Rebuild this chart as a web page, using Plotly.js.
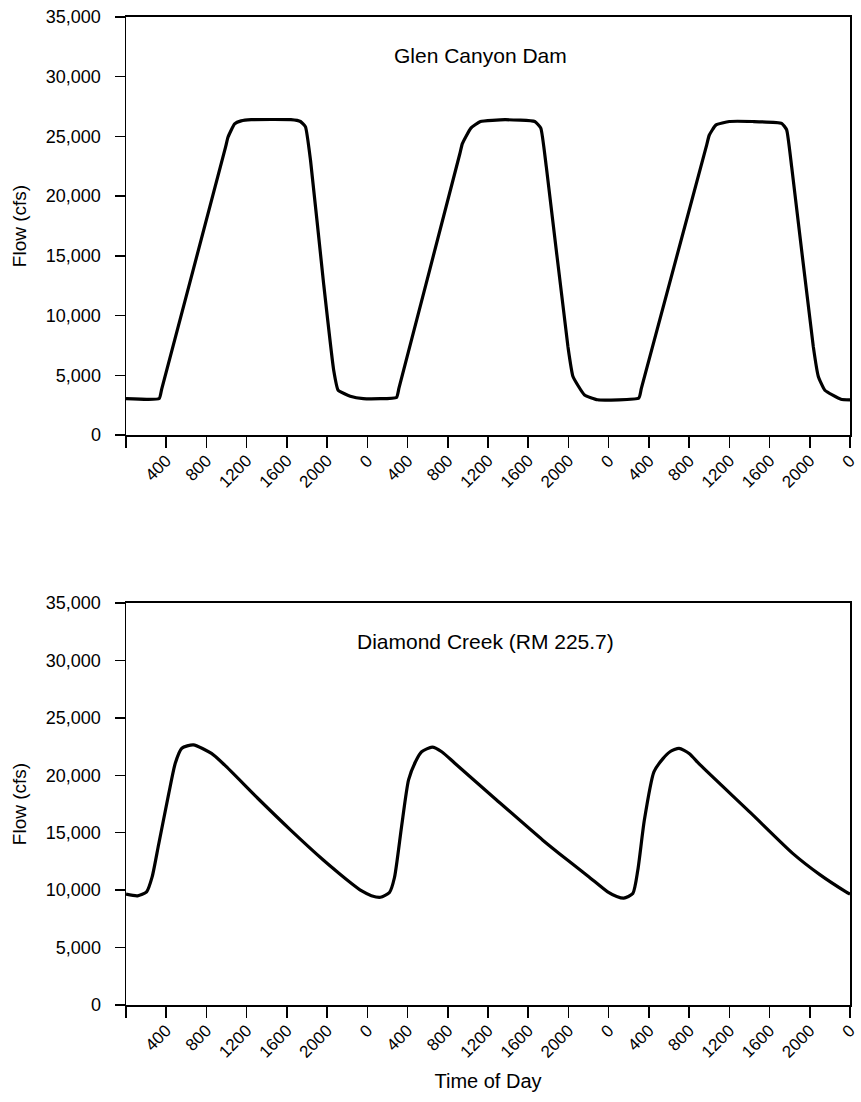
<!DOCTYPE html>
<html>
<head>
<meta charset="utf-8">
<script src="https://cdn.plot.ly/plotly-3.0.1.min.js"></script>
<style>
  html, body { margin: 0; padding: 0; background: #fff; }
  #chart { width: 861px; height: 1102px; }
</style>
</head>
<body>
<div id="chart"></div>
<script>
// Hourly flow at Glen Canyon Dam over three days (hours since midnight of day 1)
const glenHours = [0, 3.3, 3.55, 9.9, 10.15, 10.8, 11.45, 12.45, 16.4, 17.35, 17.85, 18.35, 19.65, 20.65, 21.1, 22.3, 23.6,
  26.9, 27.15, 33.2, 33.45, 34.3, 35.25, 37.7, 40.65, 41.25, 41.8, 43.95, 44.45, 45.6, 46.9,
  51.0, 51.25, 57.75, 58.0, 58.65, 60.0, 62.3, 65.2, 65.7, 66.2, 68.35, 68.85, 69.5, 71.1, 72];
const glenFlow = [3050, 3050, 3850, 24100, 24950, 26050, 26300, 26400, 26400, 26250, 25800, 23000, 12700, 5450, 3750, 3250, 3050,
  3150, 3950, 23550, 24400, 25700, 26250, 26400, 26250, 25700, 22450, 7400, 4900, 3350, 2950,
  3100, 3900, 24300, 25100, 25950, 26250, 26250, 26100, 25550, 22450, 7400, 4900, 3750, 3000, 2950];

// Attenuated wave downstream at Diamond Creek (RM 225.7)
const diamondHours = [0, 1.15, 2.05, 2.6, 3.25, 4.25, 4.9, 5.55, 6.7, 8.5, 9.8, 13.1, 16.35, 19.65, 21.2, 22.4, 23.4,
  24.4, 25.3, 26.2, 26.7, 27.4, 28.1, 28.8, 29.4, 30.45, 31.4, 32.7, 36.85, 41.45, 44.0, 46.05, 47.9, 48.8,
  49.5, 50.4, 50.9, 51.55, 52.5, 53.4, 54.1, 55.0, 56.0, 57.1, 62.15, 66.3, 69.0, 71.6, 72];
const diamondFlow = [9650, 9500, 9850, 11150, 14000, 18400, 21050, 22350, 22650, 21900, 20900, 18000, 15250, 12600, 11450, 10600, 9950,
  9520, 9380, 9800, 11100, 15500, 19600, 21200, 22050, 22450, 22050, 21050, 17850, 14350, 12550, 11150, 9850, 9450,
  9300, 9700, 11750, 16100, 20300, 21450, 22050, 22350, 21900, 20900, 16700, 13200, 11350, 9850, 9650];

// Clock-time tick labels every four hours
const tickHours = [0, 4, 8, 12, 16, 20, 24, 28, 32, 36, 40, 44, 48, 52, 56, 60, 64, 68, 72];
const tickLabels = ["", "400", "800", "1200", "1600", "2000", "0", "400", "800", "1200", "1600", "2000",
  "0", "400", "800", "1200", "1600", "2000", "0"];

const flowTicks = [0, 5000, 10000, 15000, 20000, 25000, 30000, 35000];
const flowTickText = ["0", "5,000", "10,000", "15,000", "20,000", "25,000", "30,000", "35,000"];

const FONT = "'Liberation Sans', Arial, Helvetica, sans-serif";

const lineStyle = { color: '#000', width: 3.2 };

const traces = [
  { x: glenHours, y: glenFlow, xaxis: 'x', yaxis: 'y', mode: 'lines',
    line: Object.assign({ shape: 'spline', smoothing: 0.4 }, lineStyle), hoverinfo: 'skip' },
  { x: diamondHours, y: diamondFlow, xaxis: 'x2', yaxis: 'y2', mode: 'lines',
    line: Object.assign({ shape: 'spline', smoothing: 0.6 }, lineStyle), hoverinfo: 'skip' }
];

function xAxis(anchor, withTitle) {
  const ax = {
    anchor: anchor, domain: [0, 1], range: [0, 72],
    tickmode: 'array', tickvals: tickHours, ticktext: tickLabels,
    tickangle: -45, ticks: 'outside', ticklen: 11, tickwidth: 1.5, tickcolor: '#000',
    ticklabelstandoff: -4, ticklabeloverflow: 'allow',
    showline: true, linecolor: '#000', linewidth: 2, mirror: true,
    showgrid: false, zeroline: false, fixedrange: true,
    tickfont: { family: FONT, size: 17, color: '#000' }
  };
  if (withTitle) {
    ax.title = { text: 'Time of Day', font: { family: FONT, size: 20, color: '#000' }, standoff: 14 };
    ax.automargin = true;
  }
  return ax;
}

function yAxis(anchor, domain) {
  return {
    anchor: anchor, domain: domain, range: [0, 35000],
    tickmode: 'array', tickvals: flowTicks, ticktext: flowTickText,
    ticks: 'outside', ticklen: 10, tickwidth: 1.5, tickcolor: '#000',
    ticklabelstandoff: 10,
    showline: true, linecolor: '#000', linewidth: 1.5, mirror: true,
    showgrid: false, zeroline: false, fixedrange: true, automargin: true,
    tickfont: { family: FONT, size: 18, color: '#000' },
    title: { text: 'Flow (cfs)', font: { family: FONT, size: 19, color: '#000' }, standoff: 14 }
  };
}

const layout = {
  width: 861, height: 1102,
  margin: { l: 126, r: 2, t: 17, b: 97 },
  paper_bgcolor: '#fff', plot_bgcolor: '#fff',
  showlegend: false,
  font: { family: FONT, color: '#000' },
  xaxis: xAxis('y', false),
  yaxis: yAxis('x', [0.5769, 1]),
  xaxis2: xAxis('y2', true),
  yaxis2: yAxis('x2', [0, 0.4069]),
  annotations: [
    { text: 'Glen Canyon Dam', xref: 'x domain', yref: 'y domain', x: 0.49, y: 0.909,
      showarrow: false, xanchor: 'center', yanchor: 'middle',
      font: { family: FONT, size: 21, color: '#000' } },
    { text: 'Diamond Creek (RM 225.7)', xref: 'x2 domain', yref: 'y2 domain', x: 0.497, y: 0.905,
      showarrow: false, xanchor: 'center', yanchor: 'middle',
      font: { family: FONT, size: 21, color: '#000' } }
  ]
};

Plotly.newPlot('chart', traces, layout, { displayModeBar: false, staticPlot: true });
</script>
</body>
</html>
